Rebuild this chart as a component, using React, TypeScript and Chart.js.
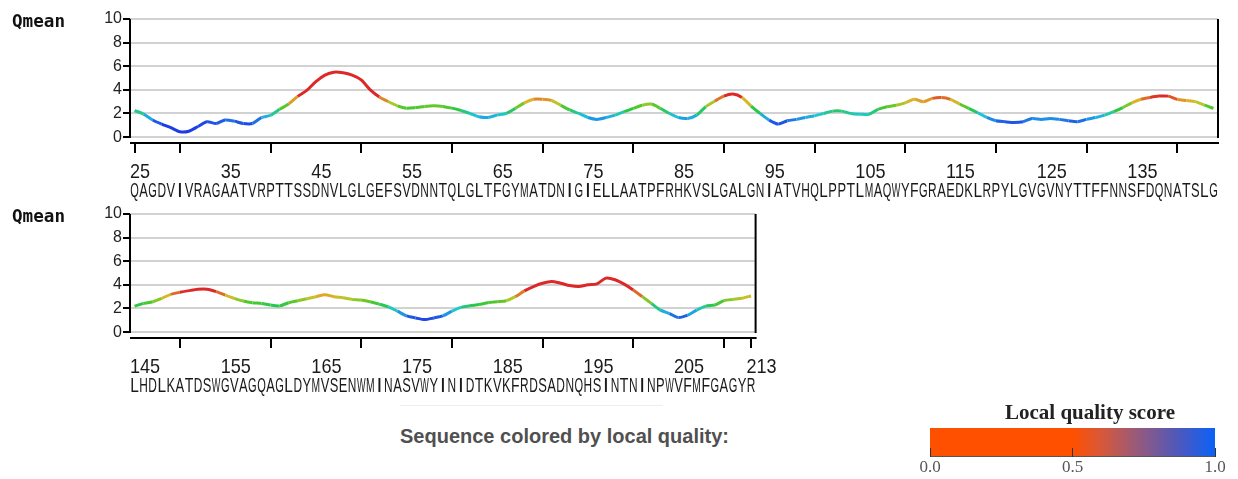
import React, { useEffect, useRef } from 'react';
import { Chart, registerables } from 'chart.js';
Chart.register(...registerables);

const seqTop = "QAGDVIVRAGAATVRPTTSSDNVLGLGEFSVDNNTQLGLTFGYMATDNIGIELLAATPFRHKVSLGALGNIATVHQLPPTLMAQWYFGRAEDKLRPYLGVGVNYTTFFNNSFDQNATSLG";
const seqBottom = "LHDLKATDSWGVAGQAGLDYMVSENWMINASVWYINIDTKVKFRDSADNQHSINTNINPWVFMFGAGYR";
const startTop = 25;
const startBottom = 145;

const qmeanTop = [
  2.25, 1.95, 1.45, 1.1, 0.8, 0.45, 0.5, 0.9, 1.3, 1.15,
  1.45, 1.35, 1.15, 1.15, 1.65, 1.85, 2.35, 2.8, 3.45, 3.95,
  4.7, 5.25, 5.5, 5.45, 5.25, 4.85, 4.0, 3.4, 3.0, 2.65,
  2.45, 2.5, 2.6, 2.65, 2.6, 2.45, 2.25, 2.0, 1.72, 1.66,
  1.86, 2.0, 2.43, 2.9, 3.2, 3.2, 3.1, 2.7, 2.3, 2.0,
  1.66, 1.5, 1.66, 1.86, 2.15, 2.43, 2.7, 2.8, 2.43, 2.0,
  1.66, 1.58, 1.86, 2.57, 3.05, 3.47, 3.64, 3.36, 2.63, 2.0,
  1.44, 1.1, 1.38, 1.5, 1.66, 1.8, 2.0, 2.2, 2.2, 2.0,
  1.94, 1.94, 2.35, 2.57, 2.7, 2.9, 3.2, 3.0, 3.28, 3.36,
  3.2, 2.8, 2.43, 2.06, 1.66, 1.38, 1.3, 1.24, 1.3, 1.58,
  1.5, 1.58, 1.5, 1.38, 1.3, 1.5, 1.66, 1.86, 2.15, 2.5,
  2.9, 3.2, 3.36, 3.47, 3.47, 3.2, 3.1, 3.0, 2.7, 2.43,
];
const qmeanBottom = [
  2.2, 2.43, 2.57, 2.86, 3.2, 3.37, 3.51, 3.63, 3.63, 3.43,
  3.14, 2.86, 2.63, 2.49, 2.43, 2.29, 2.22, 2.49, 2.66, 2.83,
  3.0, 3.17, 3.0, 2.91, 2.77, 2.71, 2.57, 2.37, 2.14, 1.77,
  1.37, 1.2, 1.06, 1.2, 1.37, 1.77, 2.09, 2.23, 2.34, 2.49,
  2.57, 2.66, 3.0, 3.49, 3.86, 4.14, 4.29, 4.14, 3.94, 3.86,
  4.0, 4.09, 4.57, 4.43, 4.06, 3.57, 3.0, 2.43, 1.86, 1.57,
  1.23, 1.43, 1.86, 2.2, 2.29, 2.66, 2.77, 2.86, 3.06,
];

const labelsTop = [25, 35, 45, 55, 65, 75, 85, 95, 105, 115, 125, 135];
const marksTop = [25, 30, 40, 50, 60, 70, 80, 90, 100, 110, 120, 130, 140];
const labelsBottom = [145, 155, 165, 175, 185, 195, 205, 213];
const marksBottom = [150, 160, 170, 180, 190, 200, 210, 213];
const yTicks = [0, 2, 4, 6, 8, 10];
const legendTicks = ['0.0', '0.5', '1.0'];

const colorStops: [number, number[]][] = [
  [1.0, [30, 60, 230]],
  [1.3, [30, 90, 230]],
  [1.6, [30, 155, 230]],
  [1.9, [30, 200, 210]],
  [2.3, [40, 200, 70]],
  [2.6, [90, 200, 40]],
  [2.85, [180, 200, 40]],
  [3.05, [220, 180, 40]],
  [3.25, [224, 120, 40]],
  [3.45, [220, 40, 40]],
];

function colorFor(v: number): string {
  if (v <= colorStops[0][0]) return `rgb(${colorStops[0][1].join(',')})`;
  for (let i = 1; i < colorStops.length; i++) {
    const [v1, c1] = colorStops[i];
    const [v0, c0] = colorStops[i - 1];
    if (v <= v1) {
      const t = (v - v0) / (v1 - v0);
      const c = c0.map((a, k) => Math.round(a + (c1[k] - a) * t));
      return `rgb(${c.join(',')})`;
    }
  }
  return `rgb(${colorStops[colorStops.length - 1][1].join(',')})`;
}

const seqAxisPlugin = {
  id: 'seqAxis',
  afterDraw(chart: any, _args: any, opts: any) {
    const { ctx, chartArea } = chart;
    const x = chart.scales.x;
    const y = chart.scales.y;
    const y0 = y.getPixelForValue(0);
    const yTop = y.getPixelForValue(10);
    ctx.save();
    ctx.strokeStyle = '#000';
    ctx.lineWidth = 2;
    ctx.beginPath();
    ctx.moveTo(chartArea.left, yTop);
    ctx.lineTo(chartArea.left, y0 + 1);
    ctx.moveTo(chartArea.right, yTop);
    ctx.lineTo(chartArea.right, y0 + 1);
    ctx.moveTo(chartArea.left, chartArea.bottom);
    ctx.lineTo(chartArea.right + 1, chartArea.bottom);
    for (const m of opts.marks) {
      const px = Math.round(x.getPixelForValue(m));
      ctx.moveTo(px, chartArea.bottom);
      ctx.lineTo(px, chartArea.bottom + 10);
    }
    ctx.stroke();

    ctx.fillStyle = '#1a1a1a';
    ctx.font = '21px "Liberation Sans"';
    ctx.textAlign = 'left';
    ctx.textBaseline = 'alphabetic';
    for (const l of opts.labels) {
      const px = x.getPixelForValue(l - 0.5);
      ctx.save();
      ctx.translate(px, 178);
      ctx.scale(0.86, 1);
      ctx.fillText(String(l), 0, 0);
      ctx.restore();
    }
    ctx.textAlign = 'center';
    const seq: string = opts.seq;
    for (let i = 0; i < seq.length; i++) {
      const ch = seq[i];
      const cx = x.getPixelForValue(opts.start + i);
      const w = ctx.measureText(ch).width;
      const sx = Math.min(1, 8.6 / w);
      ctx.save();
      ctx.translate(cx, 197);
      ctx.scale(sx, 1);
      ctx.fillText(ch, 0, 0);
      ctx.restore();
    }

    ctx.fillStyle = '#111';
    ctx.font = 'bold 17px "DejaVu Sans Mono"';
    ctx.textAlign = 'left';
    const tw = ctx.measureText('Qmean').width;
    ctx.save();
    ctx.translate(12, 27);
    ctx.scale(53 / tw, 1);
    ctx.fillText('Qmean', 0, 0);
    ctx.restore();
    ctx.restore();
  },
};

function QmeanPanel(props: { seq: string; start: number; values: number[]; labels: number[]; marks: number[]; rightPad: number; top: number }) {
  const ref = useRef<HTMLCanvasElement>(null);
  useEffect(() => {
    const canvas = ref.current!;
    const { seq, start, values, labels, marks, rightPad } = props;
    const chart = new Chart(canvas, {
      type: 'line',
      data: {
        datasets: [
          {
            data: values.map((v, i) => ({ x: start + i, y: v })),
            borderWidth: 3,
            pointRadius: 0,
            tension: 0.25,
            borderColor: '#30c040',
            segment: {
              borderColor: (c: any) => colorFor((c.p0.parsed.y + c.p1.parsed.y) / 2),
            },
          },
        ],
      },
      options: {
        responsive: false,
        animation: false,
        events: [],
        layout: { padding: { left: 0, right: rightPad, top: 19, bottom: 62 } },
        plugins: {
          legend: { display: false },
          tooltip: { enabled: false },
          seqAxis: { seq, start, labels, marks },
        } as any,
        scales: {
          x: {
            type: 'linear',
            display: false,
            min: start - 0.5,
            max: start - 0.5 + seq.length,
          },
          y: {
            type: 'linear',
            min: -0.5,
            max: 10,
            afterBuildTicks: (s: any) => {
              s.ticks = yTicks.map((v) => ({ value: v }));
            },
            afterFit: (s: any) => {
              s.width = 130;
            },
            border: { display: false },
            grid: {
              color: '#d2d2d2',
              lineWidth: 2,
              tickColor: '#000',
              tickLength: 7,
              drawTicks: true,
            },
            ticks: {
              padding: 1,
              color: '#222',
              font: { family: '"Liberation Sans"', size: 16 },
            },
          },
        },
      },
      plugins: [seqAxisPlugin],
    } as any);
    return () => chart.destroy();
  }, []);
  return (
    <canvas
      ref={ref}
      width={1238}
      height={205}
      style={{ position: 'absolute', left: 0, top: props.top, width: 1238, height: 205, display: 'block' }}
    />
  );
}

export default function App() {
  return (
    <div style={{ position: 'absolute', left: 0, top: 0, width: 1238, height: 479, background: '#fff', overflow: 'hidden' }}>
      <QmeanPanel seq={seqTop} start={startTop} values={qmeanTop} labels={labelsTop} marks={marksTop} rightPad={20} top={0} />
      <QmeanPanel
        seq={seqBottom}
        start={startBottom}
        values={qmeanBottom}
        labels={labelsBottom}
        marks={marksBottom}
        rightPad={1238 - (130 + seqBottom.length * (1088 / 120))}
        top={195}
      />
      <div style={{ position: 'absolute', left: 400, top: 405, width: 263, height: 1, background: '#e6f3e6' }} />
      <div
        style={{
          position: 'absolute',
          left: 400,
          top: 425,
          font: 'bold 20px "Liberation Sans"',
          color: '#505050',
          whiteSpace: 'nowrap',
          lineHeight: '23px',
        }}
      >
        Sequence colored by local quality:
      </div>
      <div
        style={{
          position: 'absolute',
          left: 990,
          width: 200,
          top: 400,
          textAlign: 'center',
          font: 'bold 21px "Liberation Serif"',
          color: '#222',
          whiteSpace: 'nowrap',
          lineHeight: '24px',
        }}
      >
        Local quality score
      </div>
      <div
        style={{
          position: 'absolute',
          left: 930,
          top: 428,
          width: 285,
          height: 28,
          background:
            'linear-gradient(to right, #ff5000 0%, #ff5000 50%, #d85838 60%, #9a5a78 72%, #4a58c0 88%, #0a62f8 100%)',
          borderBottom: '1px solid #555',
        }}
      />
      {legendTicks.map((t, i) => (
        <React.Fragment key={t}>
          <div style={{ position: 'absolute', left: 930 + i * 142.5 - 0.5, top: 448, width: 1, height: 9, background: '#333' }} />
          <div
            style={{
              position: 'absolute',
              left: 930 + i * 142.5 - 25,
              width: 50,
              top: 458,
              textAlign: 'center',
              fontFamily: '"Liberation Serif", serif',
              fontSize: 17,
              color: '#555',
              lineHeight: '18px',
            }}
          >
            {t}
          </div>
        </React.Fragment>
      ))}
    </div>
  );
}
